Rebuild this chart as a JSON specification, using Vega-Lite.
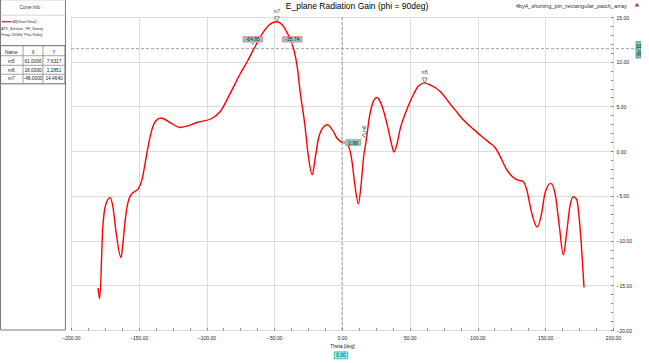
{
  "$schema": "https://vega.github.io/schema/vega-lite/v6.json",
  "width": 542,
  "height": 313,
  "autosize": {"type": "none"},
  "padding": {"left": 71, "top": 17, "right": 36, "bottom": 33},
  "background": "white",
  "config": {
    "font": "Liberation Sans",
    "view": {"stroke": "#8a8a8a", "strokeWidth": 1},
    "text": {"font": "Liberation Sans", "color": "#222222"}
  },
  "data": {"values": [{}]},
  "datasets": {
    "curve": [
      {"theta": -180, "gain": -15.3},
      {"theta": -178.8, "gain": -16.5},
      {"theta": -176.6, "gain": -8.7},
      {"theta": -174.6, "gain": -6.1},
      {"theta": -171.2, "gain": -5.2},
      {"theta": -169.2, "gain": -6.1},
      {"theta": -166.7, "gain": -9.1},
      {"theta": -163.1, "gain": -11.9},
      {"theta": -161.6, "gain": -10.2},
      {"theta": -159.9, "gain": -7.6},
      {"theta": -157.9, "gain": -5.7},
      {"theta": -156.2, "gain": -5.0},
      {"theta": -153.8, "gain": -4.6},
      {"theta": -150.3, "gain": -4.2},
      {"theta": -147.8, "gain": -3.3},
      {"theta": -145.4, "gain": -1.45},
      {"theta": -143, "gain": 0.6},
      {"theta": -140.5, "gain": 2.3},
      {"theta": -137.3, "gain": 3.4},
      {"theta": -133.6, "gain": 3.7},
      {"theta": -126.9, "gain": 3.2},
      {"theta": -119.6, "gain": 2.65},
      {"theta": -113, "gain": 2.85},
      {"theta": -107.2, "gain": 3.2},
      {"theta": -96.2, "gain": 3.65},
      {"theta": -90, "gain": 4.4},
      {"theta": -82.7, "gain": 6.4},
      {"theta": -75.3, "gain": 8.6},
      {"theta": -70, "gain": 10.0},
      {"theta": -64.95, "gain": 11.46},
      {"theta": -58.1, "gain": 13.3},
      {"theta": -53, "gain": 14.2},
      {"theta": -48, "gain": 14.464},
      {"theta": -44, "gain": 14.1},
      {"theta": -40, "gain": 13.1},
      {"theta": -35.74, "gain": 11.46},
      {"theta": -33, "gain": 9.4},
      {"theta": -31, "gain": 6.8},
      {"theta": -27.3, "gain": 2.8},
      {"theta": -24.9, "gain": -0.5},
      {"theta": -21.9, "gain": -2.65},
      {"theta": -19.9, "gain": -0.9},
      {"theta": -17.5, "gain": 1.3},
      {"theta": -14.2, "gain": 2.6},
      {"theta": -10.8, "gain": 2.95},
      {"theta": -6.4, "gain": 2.2},
      {"theta": -3.9, "gain": 1.5},
      {"theta": -1.5, "gain": 1.15},
      {"theta": 0, "gain": 0.98},
      {"theta": 2.2, "gain": 0.95},
      {"theta": 4.6, "gain": 0.6},
      {"theta": 7.2, "gain": -0.95},
      {"theta": 9.6, "gain": -3.9},
      {"theta": 12.1, "gain": -5.9},
      {"theta": 14, "gain": -3.9},
      {"theta": 16, "gain": -0.6},
      {"theta": 18, "gain": 1.2851},
      {"theta": 20, "gain": 3.6},
      {"theta": 22.5, "gain": 5.3},
      {"theta": 25.6, "gain": 6.0},
      {"theta": 28, "gain": 5.6},
      {"theta": 30.5, "gain": 4.6},
      {"theta": 34.2, "gain": 2.4},
      {"theta": 36.7, "gain": 0.7},
      {"theta": 38.4, "gain": -0.1},
      {"theta": 40.4, "gain": 0.7},
      {"theta": 42.8, "gain": 2.4},
      {"theta": 47.7, "gain": 4.6},
      {"theta": 52.6, "gain": 6.3},
      {"theta": 56.3, "gain": 7.25},
      {"theta": 61, "gain": 7.6317},
      {"theta": 65, "gain": 7.4},
      {"theta": 72.3, "gain": 6.7},
      {"theta": 79.7, "gain": 5.3},
      {"theta": 84, "gain": 4.5},
      {"theta": 89.5, "gain": 3.5},
      {"theta": 96.9, "gain": 2.46},
      {"theta": 104.3, "gain": 1.5},
      {"theta": 109.2, "gain": 0.9},
      {"theta": 112.9, "gain": 0.41},
      {"theta": 116.6, "gain": -0.55},
      {"theta": 121.5, "gain": -2.05},
      {"theta": 126.4, "gain": -2.95},
      {"theta": 130, "gain": -3.25},
      {"theta": 133.8, "gain": -3.4},
      {"theta": 136.3, "gain": -4.3},
      {"theta": 140, "gain": -6.9},
      {"theta": 144.1, "gain": -8.5},
      {"theta": 147.4, "gain": -6.9},
      {"theta": 149.8, "gain": -4.7},
      {"theta": 154, "gain": -3.6},
      {"theta": 157.2, "gain": -4.7},
      {"theta": 160.4, "gain": -8.4},
      {"theta": 163.3, "gain": -11.6},
      {"theta": 165.8, "gain": -9.1},
      {"theta": 168.3, "gain": -6.1},
      {"theta": 170.7, "gain": -5.1},
      {"theta": 173.2, "gain": -5.4},
      {"theta": 175.6, "gain": -8.4},
      {"theta": 178.6, "gain": -15.25}
    ],
    "markers": [
      {"name": "m5", "theta": 61, "gain": 7.6317},
      {"name": "m6", "theta": 18, "gain": 1.2851},
      {"name": "m7", "theta": -48, "gain": 14.464}
    ],
    "callouts": [
      {"theta": -64.95, "gain": 11.46, "label": "-64.95"},
      {"theta": -35.74, "gain": 11.46, "label": "-35.74"}
    ],
    "xmarker": [{"theta": 0, "gain": 0.98, "label": "0.98"}],
    "ymarker": [{"gain": 11.46}]
  },
  "resolve": {"axis": {"x": "independent", "y": "independent"}},
  "layer": [
    {
      "mark": {"type": "rect", "fill": "white", "stroke": "#7a7a7a", "strokeWidth": 1},
      "encoding": {
        "x": {"datum": -252.0, "type": "quantitative", "axis": null},
        "x2": {"datum": -204.1},
        "y": {"datum": 16.94, "type": "quantitative", "axis": null},
        "y2": {"datum": -20.0}
      }
    },
    {
      "mark": {"type": "rule", "stroke": "#cccccc", "strokeWidth": 0.8},
      "encoding": {
        "x": {"datum": -252.0, "type": "quantitative", "axis": null},
        "x2": {"datum": -204.1},
        "y": {"datum": 15.2, "type": "quantitative", "axis": null}
      }
    },
    {
      "mark": {"type": "text", "fontSize": 4.5, "align": "center", "baseline": "middle", "color": "#333333"},
      "encoding": {
        "x": {"datum": -230.3, "type": "quantitative", "axis": null},
        "y": {"datum": 15.98, "type": "quantitative", "axis": null},
        "text": {"value": "Curve Info"}
      }
    },
    {
      "mark": {"type": "rule", "stroke": "#ff0000", "strokeWidth": 1.2},
      "encoding": {
        "x": {"datum": -250.9, "type": "quantitative", "axis": null},
        "x2": {"datum": -244.3},
        "y": {"datum": 14.47, "type": "quantitative", "axis": null}
      }
    },
    {
      "mark": {"type": "text", "fontSize": 4, "align": "left", "baseline": "middle", "color": "#333333"},
      "encoding": {
        "x": {"datum": -243.5, "type": "quantitative", "axis": null},
        "y": {"datum": 14.47, "type": "quantitative", "axis": null},
        "text": {"value": "dB(GainTotal)"}
      }
    },
    {
      "mark": {"type": "text", "fontSize": 3.6, "align": "left", "baseline": "top", "lineHeight": 5.5, "color": "#333333"},
      "encoding": {
        "x": {"datum": -251.5, "type": "quantitative", "axis": null},
        "y": {"datum": 13.88, "type": "quantitative", "axis": null},
        "text": {"value": ["ATK_Solution : FF_Sweep", "Freq='26GHz' Phi='90deg'"]}
      }
    },
    {
      "mark": {"type": "rect", "fill": "white", "stroke": "#6a6a6a", "strokeWidth": 1},
      "encoding": {
        "x": {"datum": -252.0, "type": "quantitative", "axis": null},
        "x2": {"datum": -204.4},
        "y": {"datum": 11.79, "type": "quantitative", "axis": null},
        "y2": {"datum": 7.53}
      }
    },
    {
      "mark": {"type": "rule", "stroke": "#8a8a8a", "strokeWidth": 0.8},
      "encoding": {
        "x": {"datum": -252.0, "type": "quantitative", "axis": null},
        "x2": {"datum": -204.4},
        "y": {"datum": 10.67, "type": "quantitative", "axis": null}
      }
    },
    {
      "mark": {"type": "rule", "stroke": "#8a8a8a", "strokeWidth": 0.8},
      "encoding": {
        "x": {"datum": -252.0, "type": "quantitative", "axis": null},
        "x2": {"datum": -204.4},
        "y": {"datum": 9.6, "type": "quantitative", "axis": null}
      }
    },
    {
      "mark": {"type": "rule", "stroke": "#8a8a8a", "strokeWidth": 0.8},
      "encoding": {
        "x": {"datum": -252.0, "type": "quantitative", "axis": null},
        "x2": {"datum": -204.4},
        "y": {"datum": 8.6, "type": "quantitative", "axis": null}
      }
    },
    {
      "mark": {"type": "rule", "stroke": "#8a8a8a", "strokeWidth": 0.8},
      "encoding": {
        "x": {"datum": -235.4, "type": "quantitative", "axis": null},
        "y": {"datum": 11.79, "type": "quantitative", "axis": null},
        "y2": {"datum": 7.53}
      }
    },
    {
      "mark": {"type": "rule", "stroke": "#8a8a8a", "strokeWidth": 0.8},
      "encoding": {
        "x": {"datum": -220.7, "type": "quantitative", "axis": null},
        "y": {"datum": 11.79, "type": "quantitative", "axis": null},
        "y2": {"datum": 7.53}
      }
    },
    {
      "mark": {"type": "text", "fontSize": 4.8, "align": "center", "baseline": "top", "lineHeight": 8.9, "color": "#222222"},
      "encoding": {
        "x": {"datum": -244.0, "type": "quantitative", "axis": null},
        "y": {"datum": 11.34, "type": "quantitative", "axis": null},
        "text": {"value": ["Name", "m5", "m6", "m7"]}
      }
    },
    {
      "mark": {"type": "text", "fontSize": 4.8, "align": "center", "baseline": "top", "lineHeight": 8.9, "color": "#222222"},
      "encoding": {
        "x": {"datum": -228.0, "type": "quantitative", "axis": null},
        "y": {"datum": 11.34, "type": "quantitative", "axis": null},
        "text": {"value": ["X", "61.0000", "18.0000", "-48.0000"]}
      }
    },
    {
      "mark": {"type": "text", "fontSize": 4.8, "align": "center", "baseline": "top", "lineHeight": 8.9, "color": "#222222"},
      "encoding": {
        "x": {"datum": -212.5, "type": "quantitative", "axis": null},
        "y": {"datum": 11.34, "type": "quantitative", "axis": null},
        "text": {"value": ["Y", "7.6317", "1.2851", "14.4640"]}
      }
    },
    {
      "data": {"name": "xmarker"},
      "mark": {"type": "rule", "stroke": "#a0a0a0", "strokeWidth": 1, "strokeDash": [3, 2]},
      "encoding": {
        "x": {
          "field": "theta",
          "type": "quantitative",
          "axis": {
            "orient": "bottom",
            "values": [-200, -187.5, -175, -162.5, -150, -137.5, -125, -112.5, -100, -87.5, -75, -62.5, -50, -37.5, -25, -12.5, 0, 12.5, 25, 37.5, 50, 62.5, 75, 87.5, 100, 112.5, 125, 137.5, 150, 162.5, 175, 187.5, 200],
            "labels": false,
            "grid": false,
            "domain": false,
            "ticks": true,
            "tickSize": -2.5,
            "tickColor": "#707070",
            "tickWidth": 0.8,
            "title": null
          }
        }
      }
    },
    {
      "data": {"name": "ymarker"},
      "mark": {"type": "rule", "stroke": "#a0a0a0", "strokeWidth": 1, "strokeDash": [3, 2]},
      "encoding": {
        "y": {
          "field": "gain",
          "type": "quantitative",
          "axis": {
            "orient": "right",
            "values": [-20, -19, -18, -17, -16, -15, -14, -13, -12, -11, -10, -9, -8, -7, -6, -5, -4, -3, -2, -1, 0, 1, 2, 3, 4, 5, 6, 7, 8, 9, 10, 11, 12, 13, 14, 15],
            "labels": false,
            "grid": false,
            "domain": false,
            "ticks": true,
            "tickSize": -2.5,
            "tickColor": "#707070",
            "tickWidth": 0.8,
            "title": null
          }
        },
        "x": {"datum": -200, "type": "quantitative", "axis": null},
        "x2": {"datum": 216.5}
      }
    },
    {
      "data": {"name": "curve"},
      "mark": {"type": "line", "color": "#ff0000", "strokeWidth": 1.4, "interpolate": "monotone"},
      "encoding": {
        "x": {
          "field": "theta",
          "type": "quantitative",
          "scale": {"domain": [-200, 200], "nice": false, "zero": false},
          "axis": {
            "orient": "bottom",
            "values": [-200, -150, -100, -50, 0, 50, 100, 150, 200],
            "format": ".2f",
            "grid": true,
            "gridColor": "#dcdcdc",
            "gridWidth": 1,
            "ticks": false,
            "domain": false,
            "labelFontSize": 5,
            "labelColor": "#222222",
            "labelPadding": 5,
            "labelFlush": false,
            "labelOverlap": false,
            "title": "Theta [deg]",
            "titleFontSize": 4.8,
            "titleFontWeight": "normal",
            "titleColor": "#222222",
            "titlePadding": 3
          }
        },
        "y": {
          "field": "gain",
          "type": "quantitative",
          "scale": {"domain": [-20, 15], "nice": false, "zero": false},
          "axis": {
            "orient": "right",
            "values": [-20, -15, -10, -5, 0, 5, 10, 15],
            "format": ".2f",
            "grid": true,
            "gridColor": "#dcdcdc",
            "gridWidth": 1,
            "ticks": false,
            "domain": false,
            "labelFontSize": 5,
            "labelColor": "#222222",
            "labelPadding": 3,
            "labelFlush": false,
            "labelOverlap": false,
            "title": null
          }
        }
      }
    },
    {
      "data": {"name": "markers"},
      "transform": [{"filter": "datum.name !== 'm6'"}],
      "mark": {"type": "point", "shape": "M-1,-2L1,-2L0,0Z", "size": 25, "filled": true, "fill": "white", "stroke": "#555555", "strokeWidth": 0.7, "opacity": 1},
      "encoding": {
        "x": {"field": "theta", "type": "quantitative", "axis": null},
        "y": {"field": "gain", "type": "quantitative", "axis": null}
      }
    },
    {
      "data": {"name": "markers"},
      "transform": [{"filter": "datum.name !== 'm6'"}],
      "mark": {"type": "text", "fontSize": 4.5, "align": "center", "baseline": "middle", "dy": -10, "color": "#333333"},
      "encoding": {
        "x": {"field": "theta", "type": "quantitative", "axis": null},
        "y": {"field": "gain", "type": "quantitative", "axis": null},
        "text": {"field": "name"}
      }
    },
    {
      "data": {"name": "markers"},
      "transform": [{"filter": "datum.name === 'm6'"}],
      "mark": {"type": "point", "shape": "M-1.76,-1.72L0,-2.72L0,-0.72Z", "size": 25, "filled": true, "fill": "white", "stroke": "#555555", "strokeWidth": 0.7, "opacity": 1},
      "encoding": {
        "x": {"field": "theta", "type": "quantitative", "axis": null},
        "y": {"field": "gain", "type": "quantitative", "axis": null}
      }
    },
    {
      "data": {"name": "markers"},
      "transform": [{"filter": "datum.name === 'm6'"}],
      "mark": {"type": "text", "fontSize": 4.5, "align": "center", "baseline": "middle", "angle": 270, "xOffset": -1.5, "yOffset": -11, "color": "#333333"},
      "encoding": {
        "x": {"field": "theta", "type": "quantitative", "axis": null},
        "y": {"field": "gain", "type": "quantitative", "axis": null},
        "text": {"field": "name"}
      }
    },
    {
      "data": {"name": "callouts"},
      "mark": {"type": "point", "shape": "M-1.1,-1.2L0.85,-1.2L0.85,-0.66L0,-0.66L-0.12,-0.4L-0.25,-0.66L-1.1,-0.66Z", "size": 400, "filled": true, "fill": "#8ccfcf", "stroke": "#e87878", "strokeWidth": 0.8, "opacity": 1},
      "encoding": {
        "x": {"field": "theta", "type": "quantitative", "axis": null},
        "y": {"field": "gain", "type": "quantitative", "axis": null}
      }
    },
    {
      "data": {"name": "callouts"},
      "mark": {"type": "text", "fontSize": 5, "align": "center", "baseline": "middle", "dx": -1.2, "dy": -9.3, "color": "#1a1a1a"},
      "encoding": {
        "x": {"field": "theta", "type": "quantitative", "axis": null},
        "y": {"field": "gain", "type": "quantitative", "axis": null},
        "text": {"field": "label"}
      }
    },
    {
      "data": {"name": "xmarker"},
      "mark": {"type": "point", "shape": "M0.05,0L0.37,-0.15L0.37,-0.27L1.87,-0.27L1.87,0.3L0.37,0.3L0.37,0.15Z", "size": 400, "filled": true, "fill": "#8ccfcf", "stroke": "#e87878", "strokeWidth": 0.8, "opacity": 1},
      "encoding": {
        "x": {"field": "theta", "type": "quantitative", "axis": null},
        "y": {"field": "gain", "type": "quantitative", "axis": null}
      }
    },
    {
      "data": {"name": "xmarker"},
      "mark": {"type": "text", "fontSize": 5, "align": "center", "baseline": "middle", "dx": 11.2, "dy": 0.2, "color": "#1a1a1a"},
      "encoding": {
        "x": {"field": "theta", "type": "quantitative", "axis": null},
        "y": {"field": "gain", "type": "quantitative", "axis": null},
        "text": {"field": "label"}
      }
    },
    {
      "data": {"name": "xmarker"},
      "mark": {"type": "point", "shape": "M-0.67,-0.34L0.67,-0.34L0.67,0.34L-0.67,0.34Z", "size": 400, "filled": true, "fill": "#80ffff", "stroke": "#3a9a9a", "strokeWidth": 0.8, "opacity": 1, "xOffset": -1},
      "encoding": {
        "x": {"field": "theta", "type": "quantitative", "axis": null},
        "y": {"datum": -22.83, "type": "quantitative", "axis": null}
      }
    },
    {
      "data": {"name": "xmarker"},
      "mark": {"type": "text", "fontSize": 5, "align": "center", "baseline": "middle", "dx": -1, "color": "#1a1a1a"},
      "encoding": {
        "x": {"field": "theta", "type": "quantitative", "axis": null},
        "y": {"datum": -22.83, "type": "quantitative", "axis": null},
        "text": {"field": "theta", "format": ".2f"}
      }
    },
    {
      "data": {"name": "ymarker"},
      "mark": {"type": "point", "shape": "M-0.235,-0.83L0.235,-0.83L0.235,0.83L-0.235,0.83Z", "size": 400, "filled": true, "fill": "#80c4c4", "stroke": "#4a9a9a", "strokeWidth": 0.8, "opacity": 1, "yOffset": 1.1},
      "encoding": {
        "x": {"datum": 218.7, "type": "quantitative", "axis": null},
        "y": {"field": "gain", "type": "quantitative", "axis": null}
      }
    },
    {
      "data": {"name": "ymarker"},
      "mark": {"type": "text", "fontSize": 4.8, "align": "center", "baseline": "middle", "angle": 90, "yOffset": 1.1, "color": "#1a1a1a"},
      "encoding": {
        "x": {"datum": 218.7, "type": "quantitative", "axis": null},
        "y": {"field": "gain", "type": "quantitative", "axis": null},
        "text": {"field": "gain", "format": ".2f"}
      }
    },
    {
      "mark": {"type": "text", "fontSize": 8.5, "align": "center", "baseline": "alphabetic", "color": "#000000"},
      "encoding": {
        "x": {"datum": 11.1, "type": "quantitative", "axis": null},
        "y": {"datum": 15.87, "type": "quantitative", "axis": null},
        "text": {"value": "E_plane Radiation Gain (phi = 90deg)"}
      }
    },
    {
      "mark": {"type": "text", "fontSize": 5.7, "align": "right", "baseline": "alphabetic", "color": "#333333"},
      "encoding": {
        "x": {"datum": 210.3, "type": "quantitative", "axis": null},
        "y": {"datum": 15.98, "type": "quantitative", "axis": null},
        "text": {"value": "4by4_shorting_pin_rectangular_patch_array"}
      }
    },
    {
      "mark": {"type": "point", "shape": "triangle-up", "size": 12, "filled": true, "fill": "#c83030", "stroke": "#902020", "strokeWidth": 0.5, "opacity": 1},
      "encoding": {
        "x": {"datum": 217.7, "type": "quantitative", "axis": null},
        "y": {"datum": 16.38, "type": "quantitative", "axis": null}
      }
    }
  ]
}
